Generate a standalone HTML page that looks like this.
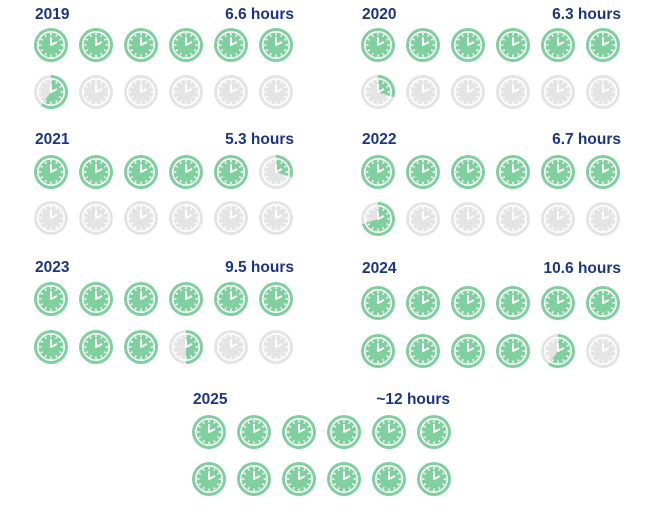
<!DOCTYPE html><html><head><style>body{margin:0;background:#fff;width:665px;height:508px;overflow:hidden}svg text{font-family:"Liberation Sans",sans-serif;font-weight:bold;fill:#1c3683;font-size:15.5px}</style></head><body>
<svg id="s" width="665" height="508" xmlns="http://www.w3.org/2000/svg"></svg>
<script>
const s=document.getElementById('s');let h='';
const G='#80cf9f',E='#e4e4e4';
function clock(cx,cy,f){let r=17;
 if(f>=1)h+=`<circle cx="${cx}" cy="${cy}" r="${r}" fill="${G}"/>`;
 else{h+=`<circle cx="${cx}" cy="${cy}" r="${r}" fill="${E}"/>`;
  if(f>0){let a=f*2*Math.PI,x=cx+r*Math.sin(a),y=cy-r*Math.cos(a);
   h+=`<path d="M${cx} ${cy}L${cx} ${cy-r}A${r} ${r} 0 ${f>0.5?1:0} 1 ${x.toFixed(2)} ${y.toFixed(2)}Z" fill="${G}"/>`;}}
 h+=`<circle cx="${cx}" cy="${cy}" r="13.2" fill="none" stroke="#fff" stroke-width="1.6"/>`;
 for(let i=0;i<12;i++){let a=i*Math.PI/6,s1=Math.sin(a),c=Math.cos(a);
  h+=`<line x1="${(cx+9.5*s1).toFixed(2)}" y1="${(cy-9.5*c).toFixed(2)}" x2="${(cx+12*s1).toFixed(2)}" y2="${(cy-12*c).toFixed(2)}" stroke="#fff" stroke-width="1.3"/>`;}
 h+=`<path d="M${cx} ${cy-8}L${cx} ${cy}L${cx+6} ${cy-3}" fill="none" stroke="#fff" stroke-width="2" stroke-linejoin="round"/>`;
}
function panel(x0,ys,ty,year,hr,hx,hours){
 h+=`<text x="${x0-16}" y="${ty}">${year}</text><text x="${hx}" y="${ty}" text-anchor="end">${hr}</text>`;
 for(let r=0;r<2;r++)for(let c=0;c<6;c++){let i=r*6+c,f=Math.max(0,Math.min(1,hours-i));clock(x0+c*45,ys[r],f);}
}
panel(51,[45,92],19,'2019','6.6 hours',294,6.6);
panel(378,[45,92],19,'2020','6.3 hours',621,6.3);
panel(51,[172,218],144,'2021','5.3 hours',294,5.3);
panel(378,[172,219],144,'2022','6.7 hours',621,6.7);
panel(51,[299,347],272,'2023','9.5 hours',294,9.5);
panel(378,[303,351],273,'2024','10.6 hours',621,10.6);
panel(209,[432,479],404,'2025','~12 hours',450,12);
s.innerHTML=h;
</script></body></html>
